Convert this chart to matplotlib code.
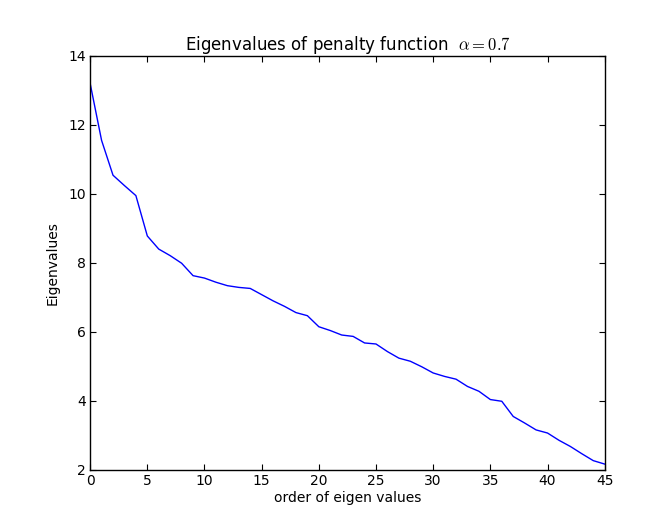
import matplotlib
matplotlib.use("Agg")
import matplotlib.pyplot as plt

plt.rcParams.update(
    {
        "font.family": "DejaVu Sans",
        "font.size": 10,
        "mathtext.fontset": "cm",
        "xtick.direction": "in",
        "ytick.direction": "in",
        "xtick.top": True,
        "ytick.right": True,
        "xtick.major.size": 4,
        "ytick.major.size": 4,
        "axes.linewidth": 1.0,
    }
)

order = list(range(46))
eigenvalues = [
    13.20, 11.55, 10.54, 10.24, 9.95, 8.78, 8.40, 8.21, 7.99, 7.63,
    7.56, 7.44, 7.34, 7.29, 7.26, 7.08, 6.90, 6.74, 6.56, 6.47,
    6.15, 6.04, 5.91, 5.87, 5.68, 5.65, 5.43, 5.24, 5.15, 4.99,
    4.81, 4.71, 4.63, 4.42, 4.28, 4.04, 3.99, 3.55, 3.36, 3.16,
    3.07, 2.86, 2.68, 2.47, 2.27, 2.17,
]

fig = plt.figure(figsize=(6.58, 5.17), dpi=100)
ax = fig.add_axes([0.137, 0.091, 0.782, 0.801])
ax.plot(order, eigenvalues, color="#0000ff", linewidth=1.0)
ax.set_xlim(0, 45)
ax.set_ylim(2, 14)
ax.set_xticks(range(0, 46, 5))
ax.set_yticks(range(2, 15, 2))
ax.set_xlabel("order of eigen values", labelpad=2)
ax.set_ylabel("Eigenvalues", labelpad=6)
ax.set_title(r"Eigenvalues of penalty function  $\alpha = 0.7$", fontsize=12, pad=3.5)
ax.tick_params(pad=3)

fig.savefig("out.png", dpi=100)
